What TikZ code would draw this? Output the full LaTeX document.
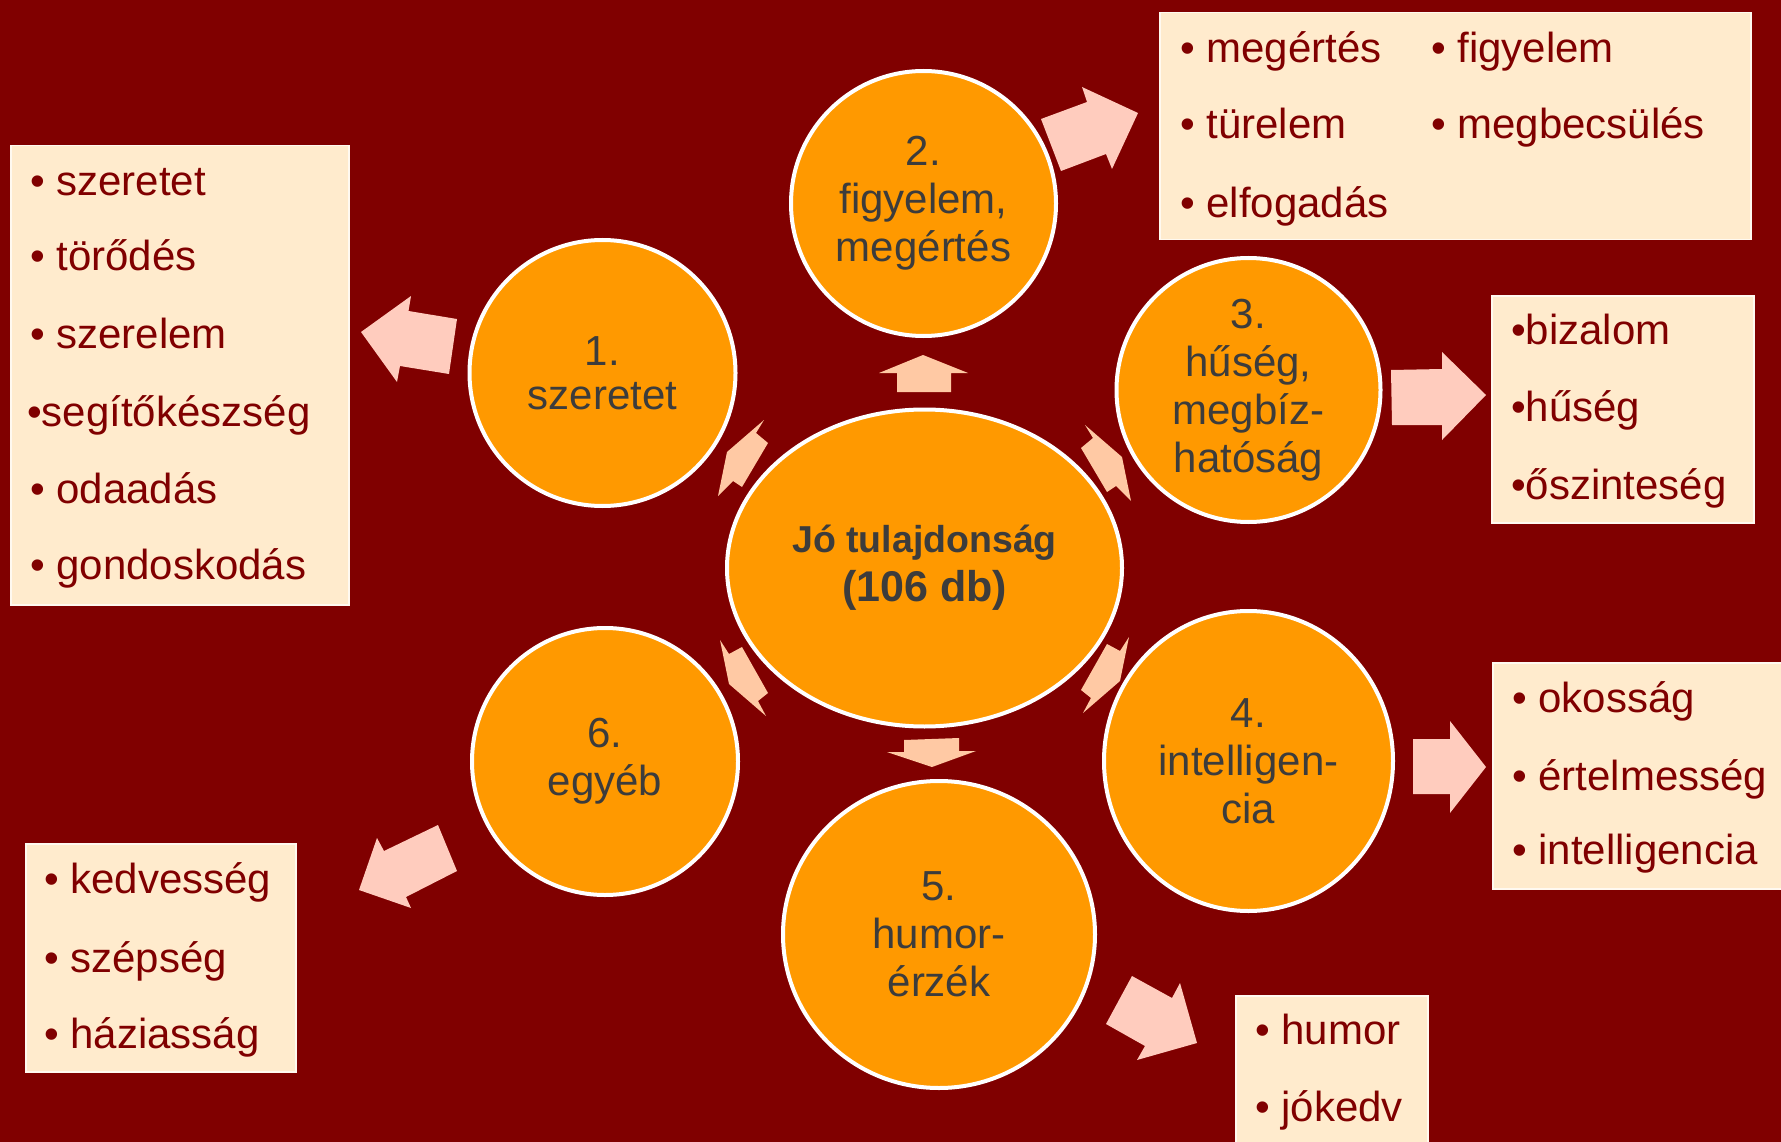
\documentclass[tikz,border=0pt]{standalone}
\usepackage{fontspec}
\setmainfont{Liberation Sans}
\usetikzlibrary{shapes.geometric}
\definecolor{bg}{HTML}{800000}
\definecolor{orng}{HTML}{FF9900}
\definecolor{boxfill}{HTML}{FFEBCD}
\definecolor{txtgray}{HTML}{3C3C3C}
\definecolor{pinkarr}{HTML}{FFCCBE}
\definecolor{peacharr}{HTML}{FFC9A4}
\definecolor{boxtxt}{HTML}{800000}
\begin{document}
\begin{tikzpicture}[x=1pt,y=-1pt,
  bubble/.style={ellipse, fill=orng, draw=white, line width=4pt, inner sep=0pt,
    align=center, text=txtgray, font=\fontsize{42}{48}\selectfont},
  listbox/.style={rectangle, fill=boxfill, draw=white!70!boxfill, line width=1.5pt,
    inner sep=0pt, anchor=north west},
  listtext/.style={anchor=base west, text=boxtxt, inner sep=0pt,
    font=\fontsize{42}{48}\selectfont},
  bigarrow/.style={fill=pinkarr},
  smallarrow/.style={fill=peacharr}]
\fill[bg] (0,0) rectangle (1781,1142);
\useasboundingbox (0,0) rectangle (1781,1142);

% outgoing block arrows
\fill[bigarrow] (457,319) -- (408.5,311) -- (411,296) -- (361,332) -- (397,382) -- (400,366) -- (449,374) -- cycle;
\fill[bigarrow] (1041,119) -- (1087,102) -- (1082,87) -- (1138,113) -- (1112,169) -- (1106,154) -- (1061,171) -- cycle;
\fill[bigarrow] (1391,370) -- (1442,369) -- (1442,352) -- (1486,395) -- (1442,440) -- (1442,425) -- (1392,425) -- cycle;
\fill[bigarrow] (1413,739) -- (1450,739) -- (1450,721) -- (1486,767) -- (1450,813) -- (1450,794) -- (1413,794) -- cycle;
\fill[bigarrow] (1132,976) -- (1172,998) -- (1180,983) -- (1197,1043) -- (1137,1060) -- (1145,1046) -- (1106,1024) -- cycle;
\fill[bigarrow] (438,825) -- (384,851) -- (377,838) -- (359,890) -- (411,908) -- (406,897) -- (457,871) -- cycle;

% small arrows around the centre
\fill[smallarrow] (897,392) -- (897,373) -- (879,373) -- (923,355) -- (968,373) -- (951,373) -- (951,392) -- cycle;
\fill[smallarrow] (904,740) -- (959,738) -- (959,751) -- (976,751) -- (932,767) -- (887,752) -- (904,752) -- cycle;
\fill[smallarrow] (718,496) -- (733,481) -- (742,487) -- (768,443) -- (756,433) -- (764,420) -- (727,452) -- cycle;
\fill[smallarrow] (720,640) -- (729,654) -- (742,647) -- (768,693) -- (758,701) -- (766,716) -- (729,684) -- cycle;
\fill[smallarrow] (1131,501) -- (1116,486) -- (1107,492) -- (1081,448) -- (1093,438) -- (1085,425) -- (1122,457) -- cycle;
\fill[smallarrow] (1129,637) -- (1120,651) -- (1107,644) -- (1081,690) -- (1091,698) -- (1083,713) -- (1120,681) -- cycle;

% circles
\node[bubble, minimum width=395pt, minimum height=317pt,
  font=\fontsize{37.5}{47}\selectfont\bfseries] (c0) at (924.5,568)
  {Jó tulajdonság\\[2pt]{\fontsize{43}{47}\selectfont (106 db)}};
\node[bubble, minimum width=266pt, minimum height=266pt] (c1) at (602.5,373) {1.\\[-4pt]szeretet};
\node[bubble, minimum width=265pt, minimum height=265pt] (c2) at (923.5,203.5) {2.\\figyelem,\\megértés};
\node[bubble, minimum width=264pt, minimum height=264pt] (c3) at (1248.5,390) {3.\\hűség,\\megbíz-\\hatóság};
\node[bubble, minimum width=289pt, minimum height=300pt] (c4) at (1248.5,761) {4.\\intelligen-\\cia};
\node[bubble, minimum width=312pt, minimum height=307pt] (c5) at (939,934.5) {5.\\humor-\\érzék};
\node[bubble, minimum width=266pt, minimum height=267pt] (c6) at (605,761.5) {6.\\egyéb};

% list boxes
\node[listbox, minimum width=338pt, minimum height=459pt] (b1) at (10,145) {};
\node[listbox, minimum width=591pt, minimum height=227pt] (b2) at (1159,12) {};
\node[listbox, minimum width=262pt, minimum height=227pt] (b3) at (1491,295) {};
\node[listbox, minimum width=300pt, minimum height=226pt] (b4) at (1492,662) {};
\node[listbox, minimum width=192pt, minimum height=170pt] (b5) at (1235,995) {};
\node[listbox, minimum width=270pt, minimum height=228pt] (b6) at (25,843) {};

% box 1
\node[listtext] (t11) at (30,196) {• szeretet};
\node[listtext] (t12) at (30,271) {• törődés};
\node[listtext] (t13) at (30,348) {• szerelem};
\node[listtext] (t14) at (27,426) {•segítőkészség};
\node[listtext] (t15) at (30,503) {• odaadás};
\node[listtext] (t16) at (30,579) {• gondoskodás};
% box 2
\node[listtext] (t21) at (1180,63) {• megértés};
\node[listtext] (t22) at (1431,63) {• figyelem};
\node[listtext] (t23) at (1180,139) {• türelem};
\node[listtext] (t24) at (1431,139) {• megbecsülés};
\node[listtext] (t25) at (1180,218) {• elfogadás};
% box 3
\node[listtext] (t31) at (1511,344) {•bizalom};
\node[listtext] (t32) at (1511,421) {•hűség};
\node[listtext] (t33) at (1511,499) {•őszinteség};
% box 4
\node[listtext] (t41) at (1512,712) {• okosság};
\node[listtext] (t42) at (1512,790) {• értelmesség};
\node[listtext] (t43) at (1512,864) {• intelligencia};
% box 5
\node[listtext] (t51) at (1255,1044) {• humor};
\node[listtext] (t52) at (1255,1121) {• jókedv};
% box 6
\node[listtext] (t61) at (44,893) {• kedvesség};
\node[listtext] (t62) at (44,972) {• szépség};
\node[listtext] (t63) at (44,1048) {• háziasság};
\end{tikzpicture}
\end{document}
